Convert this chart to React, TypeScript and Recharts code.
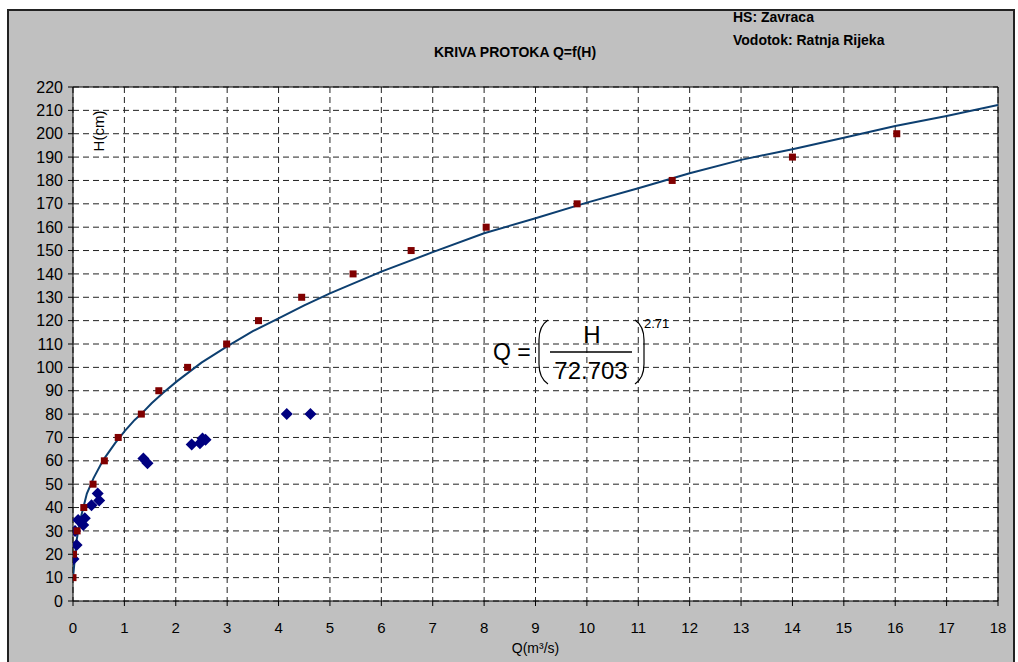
import { CartesianGrid, Customized, ReferenceLine, Scatter, ScatterChart, XAxis, YAxis } from 'recharts'

// computed points H = 10..200 cm
const calcH = [10, 20, 30, 40, 50, 60, 70, 80, 90, 100, 110, 120, 130, 140, 150, 160, 170, 180, 190, 200]
const calcQ = [0, 0.01, 0.08, 0.21, 0.39, 0.61, 0.88, 1.33, 1.67, 2.23, 2.99, 3.61, 4.45, 5.45, 6.58, 8.04, 9.81, 11.66, 14.0, 16.03]

// measured discharges
const measQ = [0.01, 0.07, 0.04, 0.1, 0.2, 0.23, 0.36, 0.48, 0.51, 1.37, 1.45, 2.31, 2.47, 2.52, 2.58, 4.16, 4.62]
const measH = [18, 24, 30, 34.7, 32.5, 35.4, 41, 46, 43, 61, 59, 67, 67.5, 69.5, 69, 80, 80]

// rating curve
const curveQ = [0, 0.07, 0.14, 0.27, 0.4, 0.59, 0.82, 1.01, 1.2, 1.34, 1.53, 1.75, 2.02, 2.5, 3.0, 3.5, 4.0, 4.5, 5.0, 6.0, 7.0, 8.0, 9.0, 10.0, 11.0, 12.0, 13.0, 14.0, 15.0, 16.0, 17.0, 18.0]
const curveH = [10, 26, 34.7, 46, 52.6, 60.4, 67.6, 72.8, 77.5, 80.3, 84.6, 89, 94, 102, 109, 115.5, 121, 126.5, 131.7, 141, 149.3, 157.4, 163.8, 170.5, 176.7, 183.1, 188.8, 193.4, 198.3, 203.3, 207.6, 212.3]

const xTicks = [0, 1, 2, 3, 4, 5, 6, 7, 8, 9, 10, 11, 12, 13, 14, 15, 16, 17, 18]
const yTicks = [0, 10, 20, 30, 40, 50, 60, 70, 80, 90, 100, 110, 120, 130, 140, 150, 160, 170, 180, 190, 200, 210, 220]

const calcData = calcQ.map((q, i) => ({ q, h: calcH[i] }))
const measData = measQ.map((q, i) => ({ q, h: measH[i] }))
const curveData = curveQ.map((q, i) => ({ q, h: curveH[i] }))

const narrow = "'Liberation Sans Narrow', 'Liberation Sans', Arial, sans-serif"
const sans = "'Liberation Sans', Arial, sans-serif"

const Square = (props: any) => {
  const { cx, cy } = props
  return <rect x={cx - 3.5} y={cy - 3.5} width={7} height={7} fill='#800000' />
}

const Diamond = (props: any) => {
  const { cx, cy } = props
  return <path d={`M${cx},${cy - 6}L${cx + 6},${cy}L${cx},${cy + 6}L${cx - 6},${cy}Z`} fill='#000080' />
}

const NoDot = () => <g />

const Formula = () => (
  <g fontFamily={sans} fill='#000'>
    <text x={98} y={131} fontSize={15} textAnchor='middle' dominantBaseline='central' transform='rotate(-90 98 131)'>
      H(cm)
    </text>
    <text x={493} y={360} fontSize={23}>Q =</text>
    <path d='M548 320 Q539 326 539 340 L539 364 Q539 378 548 384' fill='none' stroke='#000' strokeWidth={1.2} />
    <path d='M635 320 Q644 326 644 340 L644 364 Q644 378 635 384' fill='none' stroke='#000' strokeWidth={1.2} />
    <text x={592} y={343} fontSize={24} textAnchor='middle'>H</text>
    <line x1={550} x2={632} y1={352} y2={352} stroke='#000' strokeWidth={1.5} />
    <text x={591} y={379} fontSize={24} textAnchor='middle'>72.703</text>
    <text x={644} y={328} fontSize={13}>2.71</text>
  </g>
)

export default function App() {
  return (
    <div style={{ position: 'absolute', left: 0, top: 0, width: 1018, height: 662, background: '#fff', overflow: 'hidden' }}>
      <div
        style={{
          position: 'absolute',
          left: 7,
          top: 9,
          width: 1004,
          height: 670,
          background: '#c0c0c0',
          border: '2px solid #222',
        }}
      />
      <div style={{ position: 'absolute', left: 733, top: 9, font: `bold 14px ${narrow}` }}>HS: Zavraca</div>
      <div style={{ position: 'absolute', left: 733, top: 32, font: `bold 14px ${narrow}` }}>Vodotok: Ratnja Rijeka</div>
      <div style={{ position: 'absolute', left: 515, top: 44, transform: 'translateX(-50%)', font: `bold 14px ${narrow}`, whiteSpace: 'nowrap' }}>
        KRIVA PROTOKA Q=f(H)
      </div>
      <div style={{ position: 'absolute', left: 0, top: 0 }}>
        <ScatterChart width={1018} height={662} margin={{ top: 87, right: 20, bottom: 31, left: 13 }}>
          <CartesianGrid fill='#fff' stroke='#222' strokeDasharray='6 4' horizontalValues={yTicks} verticalValues={xTicks} />
          <XAxis
            type='number'
            dataKey='q'
            domain={[0, 18]}
            ticks={xTicks}
            interval={0}
            height={30}
            tickSize={5}
            tickMargin={16}
            stroke='#000'
            tick={{ fill: '#000', fontSize: 15, fontFamily: narrow }}
            label={{ value: 'Q(m³/s)', position: 'insideBottom', offset: -22, fill: '#000', fontSize: 14, fontFamily: narrow }}
            allowDataOverflow
          />
          <YAxis
            type='number'
            dataKey='h'
            domain={[0, 220]}
            ticks={yTicks}
            interval={0}
            width={60}
            tickSize={5}
            tickMargin={5}
            stroke='#000'
            tick={{ fill: '#000', fontSize: 16, fontFamily: sans }}
            allowDataOverflow
          />
          <ReferenceLine y={220} stroke='#000' />
          <ReferenceLine x={18} stroke='#000' />
          <Scatter data={curveData} line={{ stroke: '#0d3f70', strokeWidth: 2 }} lineType='joint' shape={NoDot} isAnimationActive={false} />
          <Scatter data={measData} shape={Diamond} isAnimationActive={false} />
          <Scatter data={calcData} shape={Square} isAnimationActive={false} />
          <Customized component={Formula} />
        </ScatterChart>
      </div>
    </div>
  )
}
